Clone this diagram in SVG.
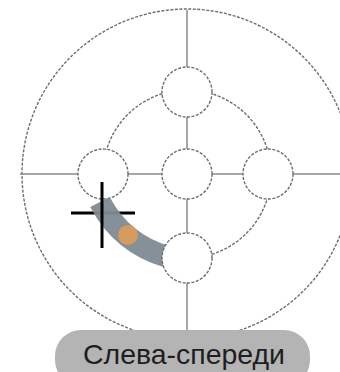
<svg xmlns="http://www.w3.org/2000/svg" width="340" height="372" viewBox="0 0 340 372">
<style>
.ln{stroke:#8a8a8a;stroke-width:1.5;fill:none}
.dc{stroke:#6e6e6e;stroke-width:1.4;fill:#fff;stroke-dasharray:3 1.5}
.da{stroke:#6e6e6e;stroke-width:1.4;fill:none;stroke-dasharray:3 1.5}
.lbl{font-family:"Liberation Sans","DejaVu Sans",sans-serif;font-size:28px;fill:#1e1e1e}
</style>
<rect width="340" height="372" fill="#fff"/>
<g id="outer">
<circle cx="187" cy="174" r="165" class="da"/>
</g>
<g id="connectors">
<line x1="187" y1="10" x2="187" y2="332" class="ln"/>
<line x1="20" y1="174" x2="340" y2="174" class="ln"/>
<path d="M187,90 A84,84 0 0 1 271,174" class="da"/>
<path d="M271,174 A84,84 0 0 1 187,258" class="da"/>
<path d="M103,174 A84,84 0 0 1 187,90" class="da"/>
</g>
<g id="node-top"><circle cx="187" cy="92" r="25" class="dc"/></g>
<g id="node-left"><circle cx="103" cy="174" r="25" class="dc"/></g>
<g id="node-center"><circle cx="187" cy="174" r="25" class="dc"/></g>
<g id="node-right"><circle cx="268" cy="174" r="25" class="dc"/></g>
<g id="drag">
<line x1="71" y1="213" x2="135" y2="213" stroke="#000" stroke-width="3"/>
<path d="M100,202 Q122,244 168,257" stroke="#808a94" stroke-width="22" fill="none" stroke-linecap="butt" opacity="0.95"/>
<line x1="102" y1="182" x2="102" y2="248" stroke="#000" stroke-width="3"/>
<circle cx="128" cy="235" r="10" fill="#d59a5e"/>
</g>
<g id="node-bottom"><circle cx="187" cy="258" r="25" class="dc"/></g>
<g id="label">
<rect x="55" y="330" width="255" height="56" rx="26" fill="#b4b4b4"/>
<text x="184" y="364" text-anchor="middle" textLength="202" lengthAdjust="spacingAndGlyphs" class="lbl">Слева-спереди</text>
</g>
</svg>
